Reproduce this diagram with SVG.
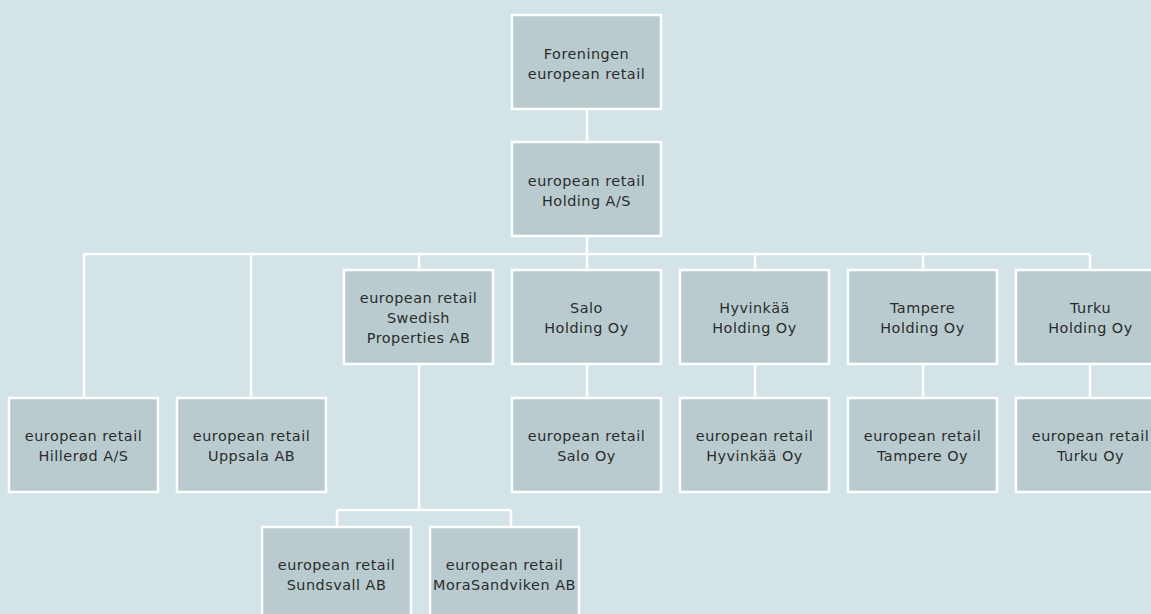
<svg xmlns="http://www.w3.org/2000/svg" width="1151" height="614" viewBox="0 0 1151 614">
<style>
.b{fill:#b9cbcf;stroke:#ffffff;stroke-width:2.5}
.t{font-family:"DejaVu Sans",sans-serif;font-size:14.4px;letter-spacing:0.5px;fill:#2b2b2b;text-anchor:middle}
.c{fill:none;stroke:#ffffff;stroke-width:2.5}
</style>
<rect x="0" y="0" width="1151" height="614" fill="#d3e4e8"/>
<g id="connectors">
<path class="c" d="M587 110V142M587 237V254M84 254H1090M84 254V398M251 254V398M419 254V270M587 254V270M755 254V270M923 254V270M1090 254V270M587 365V398M755 365V398M923 365V398M1090 365V398M419 365V510M337 510H511M337 510V527M511 510V527"/>
</g>
<g id="n-foreningen"><rect class="b" x="512" y="15" width="149" height="94"/><text class="t" x="586.5" y="59">Foreningen</text><text class="t" x="586.5" y="79">european retail</text></g>
<g id="n-holding"><rect class="b" x="512" y="142" width="149" height="94"/><text class="t" x="586.5" y="186">european retail</text><text class="t" x="586.5" y="206">Holding A/S</text></g>
<g id="n-swedish"><rect class="b" x="344" y="270" width="149" height="94"/><text class="t" x="418.5" y="303">european retail</text><text class="t" x="418.5" y="323">Swedish</text><text class="t" x="418.5" y="343">Properties AB</text></g>
<g id="n-salo-h"><rect class="b" x="512" y="270" width="149" height="94"/><text class="t" x="586.5" y="313">Salo</text><text class="t" x="586.5" y="333">Holding Oy</text></g>
<g id="n-hyv-h"><rect class="b" x="680" y="270" width="149" height="94"/><text class="t" x="754.5" y="313">Hyvinkää</text><text class="t" x="754.5" y="333">Holding Oy</text></g>
<g id="n-tam-h"><rect class="b" x="848" y="270" width="149" height="94"/><text class="t" x="922.5" y="313">Tampere</text><text class="t" x="922.5" y="333">Holding Oy</text></g>
<g id="n-tur-h"><rect class="b" x="1016" y="270" width="149" height="94"/><text class="t" x="1090.5" y="313">Turku</text><text class="t" x="1090.5" y="333">Holding Oy</text></g>
<g id="n-hillerod"><rect class="b" x="9" y="398" width="149" height="94"/><text class="t" x="83.5" y="441">european retail</text><text class="t" x="83.5" y="461">Hillerød A/S</text></g>
<g id="n-uppsala"><rect class="b" x="177" y="398" width="149" height="94"/><text class="t" x="251.5" y="441">european retail</text><text class="t" x="251.5" y="461">Uppsala AB</text></g>
<g id="n-salo"><rect class="b" x="512" y="398" width="149" height="94"/><text class="t" x="586.5" y="441">european retail</text><text class="t" x="586.5" y="461">Salo Oy</text></g>
<g id="n-hyv"><rect class="b" x="680" y="398" width="149" height="94"/><text class="t" x="754.5" y="441">european retail</text><text class="t" x="754.5" y="461">Hyvinkää Oy</text></g>
<g id="n-tam"><rect class="b" x="848" y="398" width="149" height="94"/><text class="t" x="922.5" y="441">european retail</text><text class="t" x="922.5" y="461">Tampere Oy</text></g>
<g id="n-tur"><rect class="b" x="1016" y="398" width="149" height="94"/><text class="t" x="1090.5" y="441">european retail</text><text class="t" x="1090.5" y="461">Turku Oy</text></g>
<g id="n-sundsvall"><rect class="b" x="262" y="527" width="149" height="94"/><text class="t" x="336.5" y="570">european retail</text><text class="t" x="336.5" y="590">Sundsvall AB</text></g>
<g id="n-mora"><rect class="b" x="430" y="527" width="149" height="94"/><text class="t" x="504.5" y="570">european retail</text><text class="t" x="504.5" y="590">MoraSandviken AB</text></g>
</svg>
